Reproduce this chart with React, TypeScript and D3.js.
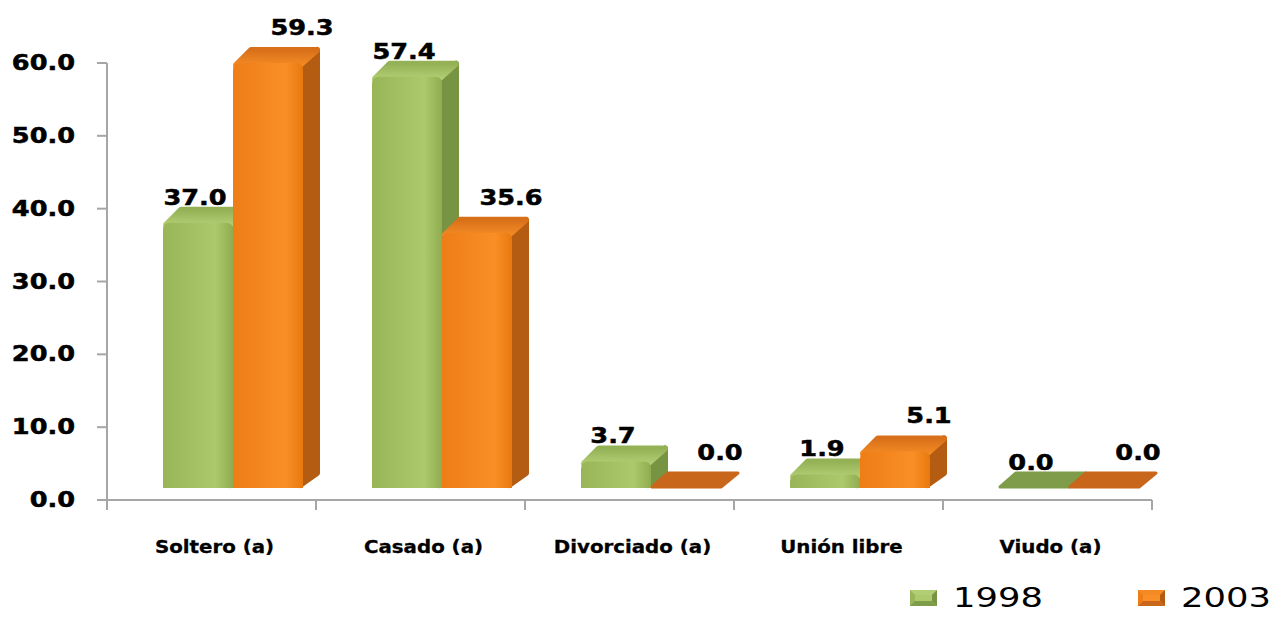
import React from "react";
import * as d3 from "d3";

const categories = ["Soltero (a)", "Casado (a)", "Divorciado (a)", "Unión libre", "Viudo (a)"];
const seriesNames = ["1998", "2003"];
const values1998 = [37.0, 57.4, 3.7, 1.9, 0.0];
const values2003 = [59.3, 35.6, 0.0, 5.1, 0.0];
const yTicks = [0, 10, 20, 30, 40, 50, 60];

const W = 1274;
const H = 617;

const palette: Record<string, any> = {
  "1998": {
    front: ["#98B657", "#ACC96B", "#8FAC50"],
    topBack: "#94B156",
    topFront: "#B2CE74",
    side: "#779442",
    flat: "#7E9C49",
    label: { dx: -3, dy: -18 },
  },
  "2003": {
    front: ["#EE7D16", "#FA8F27", "#E8790F"],
    topBack: "#D8701A",
    topFront: "#F38A24",
    side: "#B45C11",
    flat: "#C8661B",
    label: { dx: 34, dy: -28 },
  },
};

export default function App() {
  const x = d3.scaleBand<string>().domain(categories).range([107, 1152]);
  const xs = d3.scaleBand<string>().domain(seriesNames).range([56, 196]);
  const yAxis = d3.scaleLinear().domain([0, 60]).range([500, 63]);
  const yBar = d3.scaleLinear().domain([0, 60]).range([488, 58]);
  const dx = 17;
  const dy = 15;
  const base = yBar(0);

  const dataBySeries: Record<string, number[]> = { "1998": values1998, "2003": values2003 };

  const bars: any[] = [];
  const labels: any[] = [];
  categories.forEach((c, ci) => {
    seriesNames.forEach((s) => {
      const v = dataBySeries[s][ci];
      const p = palette[s];
      const x0 = (x(c) as number) + (xs(s) as number);
      const w = xs.bandwidth();
      const ft = yBar(v);
      const key = `${c}-${s}`;
      if (v === 0) {
        const pts = [
          [x0 + 1, base - 1],
          [x0 + dx, base - 15],
          [x0 + w + dx, base - 15],
          [x0 + w, base - 1],
        ];
        bars.push(
          <polygon
            key={key}
            points={pts.map((q) => q.join(",")).join(" ")}
            fill={p.flat}
            stroke={p.flat}
            strokeWidth={3}
            strokeLinejoin="round"
          />
        );
      } else {
        const side = [
          [x0 + w - 3, ft + 2],
          [x0 + w + dx - 3, ft - dy + 2],
          [x0 + w + dx - 3, base - dy],
          [x0 + w - 3, base - 3],
        ];
        const top = [
          [x0 + 3, ft + 2],
          [x0 + dx + 1, ft - dy + 2],
          [x0 + w + dx - 3, ft - dy + 2],
          [x0 + w - 3, ft + 2],
        ];
        const r = Math.min(7, (base - ft) / 2);
        const frontPath = `M${x0},${base} L${x0},${ft + r} Q${x0},${ft} ${x0 + r},${ft} L${x0 + w - r},${ft} Q${x0 + w},${ft} ${x0 + w},${ft + r} L${x0 + w},${base} Z`;
        bars.push(
          <g key={key}>
            <polygon
              points={side.map((q) => q.join(",")).join(" ")}
              fill={p.side}
              stroke={p.side}
              strokeWidth={6}
              strokeLinejoin="round"
            />
            <polygon
              points={top.map((q) => q.join(",")).join(" ")}
              fill={`url(#top-${s})`}
              stroke={`url(#top-${s})`}
              strokeWidth={6}
              strokeLinejoin="round"
            />
            <path d={frontPath} fill={`url(#front-${s})`} />
          </g>
        );
      }
      labels.push(
        <text
          key={`l-${key}`}
          transform={`translate(${x0 + w / 2 + p.label.dx},${ft + p.label.dy}) scale(1.22,1)`}
          textAnchor="middle"
          fontFamily="'DejaVu Sans', sans-serif"
          fontWeight="bold"
          fontSize={21}
          fill="#000"
          stroke="#000"
          strokeWidth={0.5}
        >
          {v.toFixed(1)}
        </text>
      );
    });
  });

  const catTicks = [...categories.map((c) => x(c) as number), 1152];

  return (
    <svg width={W} height={H} style={{ position: "absolute", left: 0, top: 0, background: "#fff" }}>
      <defs>
        {seriesNames.map((s) => (
          <linearGradient key={`fg-${s}`} id={`front-${s}`} x1="0" x2="1" y1="0" y2="0">
            <stop offset="0%" stopColor={palette[s].front[0]} />
            <stop offset="75%" stopColor={palette[s].front[1]} />
            <stop offset="100%" stopColor={palette[s].front[2]} />
          </linearGradient>
        ))}
        {seriesNames.map((s) => (
          <linearGradient key={`tg-${s}`} id={`top-${s}`} x1="0" x2="0" y1="0" y2="1">
            <stop offset="0%" stopColor={palette[s].topBack} />
            <stop offset="100%" stopColor={palette[s].topFront} />
          </linearGradient>
        ))}
      </defs>

      {/* axes */}
      <line x1={107} x2={107} y1={yAxis(60)} y2={yAxis(0)} stroke="#A6A6A6" strokeWidth={2} />
      <line x1={107} x2={1152} y1={yAxis(0)} y2={yAxis(0)} stroke="#A6A6A6" strokeWidth={2} />
      {yTicks.map((t) => (
        <g key={`yt-${t}`}>
          <line x1={97} x2={107} y1={yAxis(t)} y2={yAxis(t)} stroke="#A6A6A6" strokeWidth={2} />
          <text
            transform={`translate(75,${yAxis(t) + 7}) scale(1.22,1)`}
            textAnchor="end"
            fontFamily="'DejaVu Sans', sans-serif"
            fontWeight="bold"
            fontSize={21}
            fill="#000"
            stroke="#000"
            strokeWidth={0.5}
          >
            {t.toFixed(1)}
          </text>
        </g>
      ))}
      {catTicks.map((cx, i) => (
        <line key={`xt-${i}`} x1={cx} x2={cx} y1={yAxis(0)} y2={yAxis(0) + 10} stroke="#A6A6A6" strokeWidth={2} />
      ))}

      {bars}
      {labels}

      {categories.map((c) => (
        <text
          key={`cl-${c}`}
          transform={`translate(${(x(c) as number) + x.bandwidth() / 2 + 3},553) scale(1.1,1)`}
          textAnchor="middle"
          fontFamily="'DejaVu Sans', sans-serif"
          fontWeight="bold"
          fontSize={18}
          fill="#000"
          stroke="#000"
          strokeWidth={0.3}
        >
          {c}
        </text>
      ))}

      {/* legend */}
      {seriesNames.map((s, i) => {
        const lx = 910 + i * 228;
        const ly = 590;
        const mw = 27;
        const mh = 16;
        const b = 5;
        return (
          <g key={`leg-${s}`}>
            <rect x={lx} y={ly} width={mw} height={mh} fill={palette[s].front[1]} />
            <polygon points={`${lx},${ly} ${lx + mw},${ly} ${lx + mw - b},${ly + b} ${lx + b},${ly + b}`} fill={palette[s].topFront} />
            <polygon points={`${lx},${ly} ${lx},${ly + mh} ${lx + b},${ly + mh - b} ${lx + b},${ly + b}`} fill={palette[s].front[0]} />
            <polygon points={`${lx + mw},${ly} ${lx + mw},${ly + mh} ${lx + mw - b},${ly + mh - b} ${lx + mw - b},${ly + b}`} fill={palette[s].side} />
            <polygon points={`${lx},${ly + mh} ${lx + mw},${ly + mh} ${lx + mw - b},${ly + mh - b} ${lx + b},${ly + mh - b}`} fill={palette[s].flat} />
            <text
              transform={`translate(${lx + 43},607) scale(1.36,1)`}
              fontFamily="'DejaVu Sans', sans-serif"
              fontSize={26}
              fill="#000"
            >
              {s}
            </text>
          </g>
        );
      })}
    </svg>
  );
}
